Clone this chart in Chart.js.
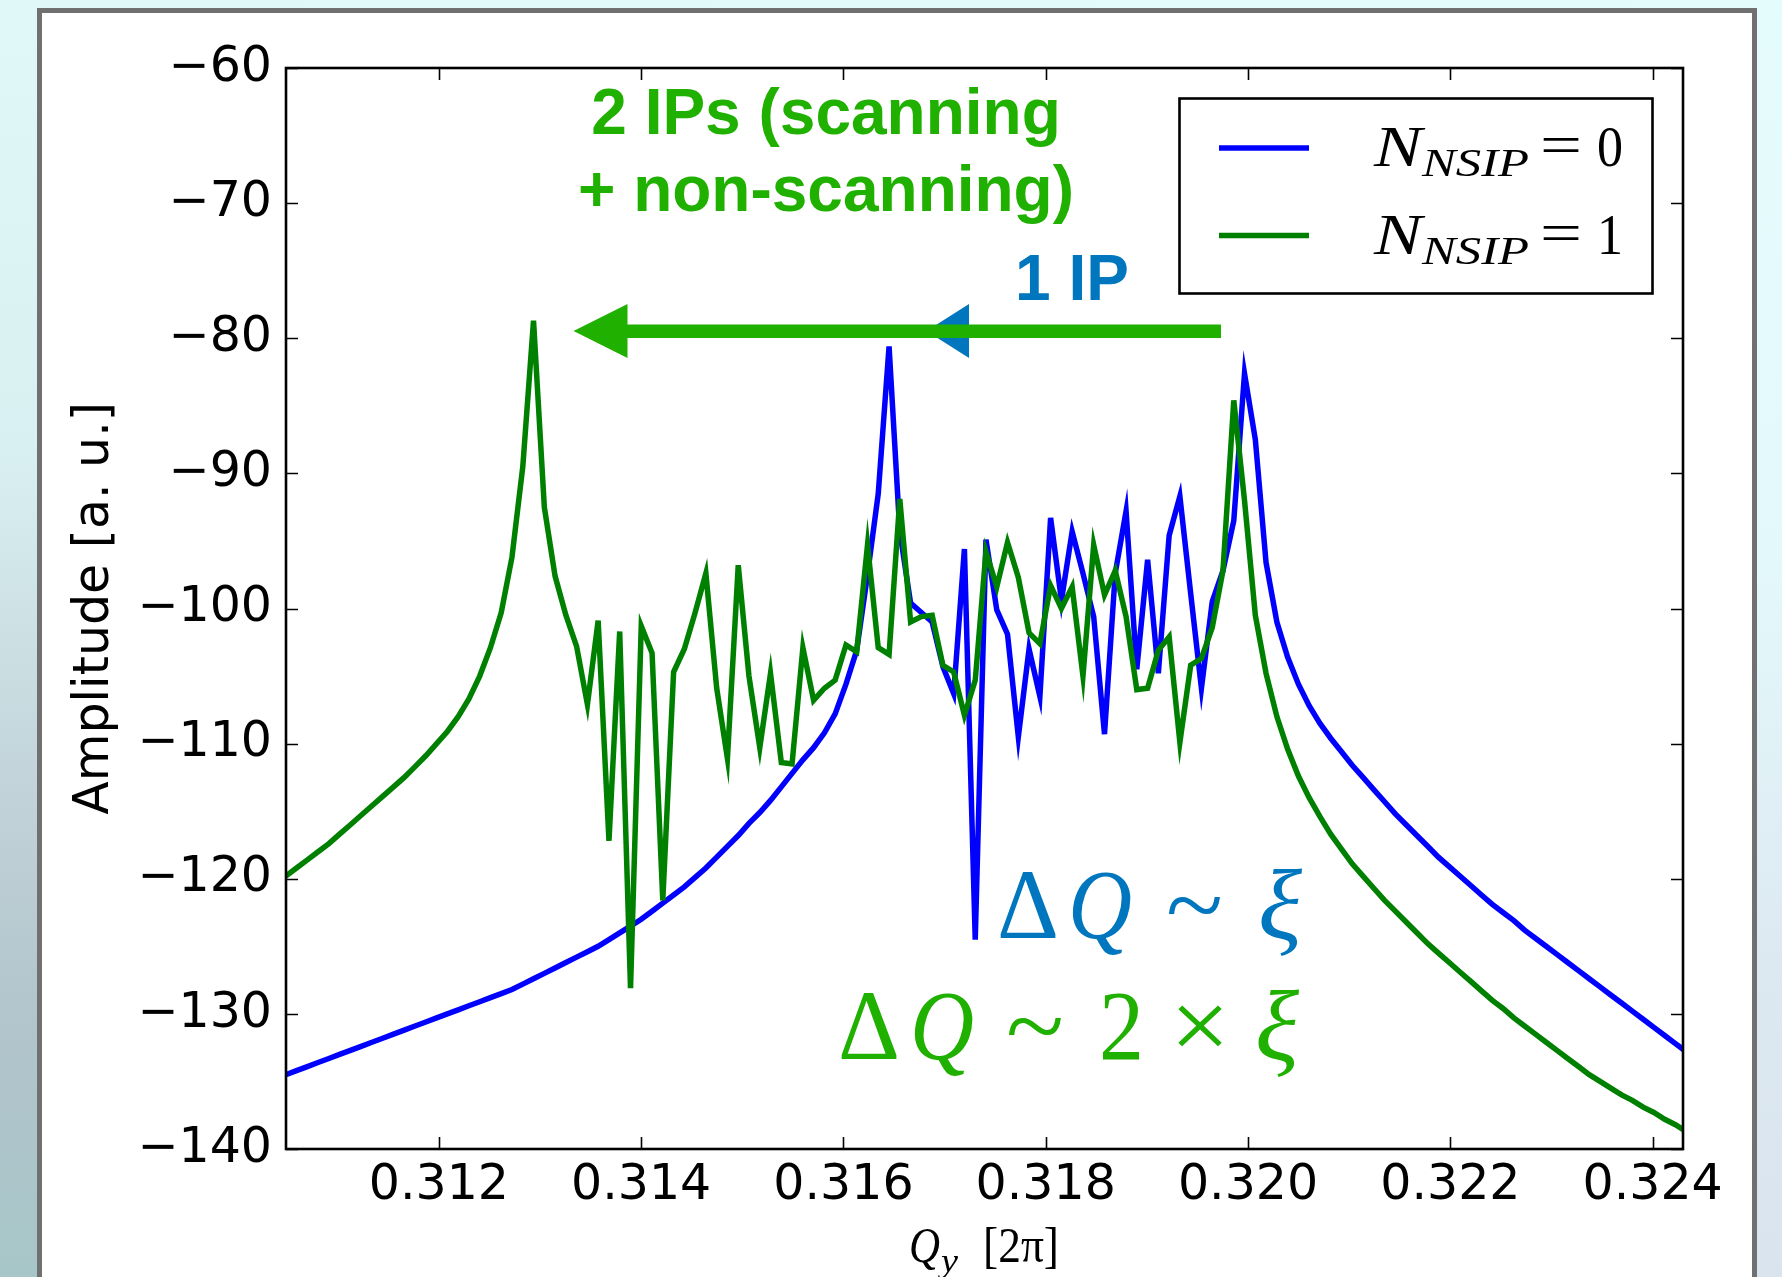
<!DOCTYPE html>
<html>
<head>
<meta charset="utf-8">
<script src="https://cdn.jsdelivr.net/npm/chart.js@4.4.1/dist/chart.umd.min.js"></script>
<style>
  html, body { margin: 0; padding: 0; width: 1782px; height: 1277px; overflow: hidden; background: #ffffff; }
  #leftStrip { position: absolute; left: 0; top: 0; width: 40px; height: 1277px;
    background: linear-gradient(180deg, #e1f8f8 0%, #d9f0f2 35%, #bfd0d6 65%, #b2c4cc 80%, #a7c6c8 100%); }
  #rightStrip { position: absolute; left: 1750px; top: 0; width: 32px; height: 1277px;
    background: linear-gradient(180deg, #e5fcfd 0%, #e3f8fb 45%, #dde9f1 75%, #d9e4ee 100%); }
  #topStrip { position: absolute; left: 0; top: 0; width: 1782px; height: 10px;
    background: linear-gradient(90deg, #e1f8f8 0%, #e3fafa 60%, #e5fcfd 100%); }
  #panel { position: absolute; left: 37px; top: 8px; width: 1710px; height: 1300px;
    background: #ffffff; border: 5px solid #707070; border-bottom: none; }
  #wrap { position: absolute; left: 0; top: 0; width: 1782px; height: 1277px; }
</style>
</head>
<body>
<div id="topStrip"></div>
<div id="leftStrip"></div>
<div id="rightStrip"></div>
<div id="panel"></div>
<div id="wrap"><canvas id="c" width="1782" height="1277"></canvas></div>
<script>
// Vertical tune Q_y [2π] on the spectrum frequency grid
const qy = [
  0.310487, 0.310593, 0.310700, 0.310806, 0.310913, 0.311019, 0.311126, 0.311232, 0.311339, 0.311445,
  0.311552, 0.311658, 0.311765, 0.311871, 0.311978, 0.312084, 0.312191, 0.312297, 0.312404, 0.312510,
  0.312617, 0.312723, 0.312830, 0.312936, 0.313043, 0.313149, 0.313256, 0.313362, 0.313469, 0.313575,
  0.313682, 0.313788, 0.313895, 0.314001, 0.314108, 0.314214, 0.314321, 0.314427, 0.314534, 0.314640,
  0.314747, 0.314853, 0.314960, 0.315066, 0.315173, 0.315279, 0.315386, 0.315492, 0.315599, 0.315705,
  0.315812, 0.315918, 0.316025, 0.316131, 0.316238, 0.316344, 0.316451, 0.316557, 0.316664, 0.316770,
  0.316877, 0.316983, 0.317090, 0.317196, 0.317303, 0.317409, 0.317516, 0.317622, 0.317729, 0.317835,
  0.317942, 0.318048, 0.318155, 0.318261, 0.318368, 0.318474, 0.318581, 0.318687, 0.318794, 0.318900,
  0.319007, 0.319113, 0.319220, 0.319326, 0.319433, 0.319539, 0.319646, 0.319752, 0.319859, 0.319965,
  0.320072, 0.320178, 0.320285, 0.320391, 0.320498, 0.320604, 0.320711, 0.320817, 0.320924, 0.321030,
  0.321137, 0.321243, 0.321350, 0.321456, 0.321563, 0.321669, 0.321776, 0.321882, 0.321989, 0.322095,
  0.322202, 0.322308, 0.322415, 0.322521, 0.322628, 0.322734, 0.322841, 0.322947, 0.323054, 0.323160,
  0.323267, 0.323373, 0.323480, 0.323586, 0.323693, 0.323799, 0.323906, 0.324012, 0.324119, 0.324225,
  0.324332
];

// Spectrum amplitude [a. u.] with no non-scanning IP (N_NSIP = 0)
const ampNsip0 = [
  -134.5, -134.2, -133.9, -133.6, -133.3, -133.0, -132.7, -132.4, -132.1, -131.8,
  -131.5, -131.2, -130.9, -130.6, -130.3, -130.0, -129.7, -129.4, -129.1, -128.8,
  -128.5, -128.2, -127.8, -127.4, -127.0, -126.6, -126.2, -125.8, -125.4, -125.0,
  -124.5, -124.0, -123.5, -123.0, -122.4, -121.8, -121.2, -120.6, -119.9, -119.2,
  -118.4, -117.6, -116.8, -115.9, -115.1, -114.2, -113.2, -112.2, -111.2, -110.3,
  -109.2, -107.8, -105.6, -103.1, -97.5, -91.5, -80.6, -94.3, -99.6, -100.3,
  -101.0, -104.3, -106.3, -95.6, -124.5, -94.9, -100.1, -101.9, -109.5, -103.0,
  -106.5, -93.3, -99.4, -94.3, -97.4, -100.6, -109.3, -97.4, -92.8, -104.5,
  -96.4, -104.8, -94.6, -91.7, -98.9, -105.9, -99.5, -97.2, -93.5, -82.6,
  -87.5, -96.6, -101.0, -103.6, -105.6, -107.2, -108.5, -109.6, -110.6, -111.6,
  -112.5, -113.4, -114.3, -115.2, -116.0, -116.8, -117.6, -118.4, -119.1, -119.8,
  -120.5, -121.2, -121.9, -122.5, -123.1, -123.8, -124.4, -125.0, -125.6, -126.2,
  -126.8, -127.4, -128.0, -128.6, -129.2, -129.8, -130.4, -131.0, -131.6, -132.2,
  -132.8
];

// Spectrum amplitude [a. u.] with one non-scanning IP (N_NSIP = 1)
const ampNsip1 = [
  -119.8, -119.2, -118.6, -118.0, -117.4, -116.7, -116.0, -115.3, -114.6, -113.9,
  -113.2, -112.5, -111.7, -110.9, -110.0, -109.1, -108.0, -106.7, -105.0, -102.9,
  -100.3, -96.2, -89.5, -78.7, -92.5, -97.6, -100.5, -102.8, -107.1, -100.9,
  -117.2, -101.7, -128.1, -101.3, -103.3, -121.6, -104.7, -103.0, -100.3, -97.4,
  -105.9, -111.1, -96.8, -105.0, -110.3, -104.8, -111.4, -111.5, -102.9, -106.8,
  -105.9, -105.3, -102.7, -103.2, -95.3, -102.9, -103.4, -91.9, -101.0, -100.6,
  -100.5, -104.2, -104.7, -107.9, -105.3, -95.8, -98.4, -95.1, -97.7, -101.8,
  -102.6, -98.3, -100.0, -98.4, -105.0, -95.3, -99.0, -97.2, -100.6, -106.0,
  -105.9, -103.1, -102.1, -109.9, -104.2, -103.7, -101.4, -97.2, -84.6, -92.0,
  -100.5, -104.8, -108.0, -110.4, -112.4, -114.0, -115.4, -116.7, -117.8, -118.9,
  -119.8, -120.7, -121.6, -122.4, -123.2, -124.0, -124.8, -125.5, -126.2, -126.9,
  -127.6, -128.3, -129.0, -129.6, -130.3, -130.9, -131.5, -132.1, -132.7, -133.3,
  -133.9, -134.5, -135.0, -135.5, -136.0, -136.4, -136.9, -137.3, -137.8, -138.2,
  -138.7
];

// Axis ticks
const xTicks = [0.312, 0.314, 0.316, 0.318, 0.320, 0.322, 0.324];
const yTicks = [-140, -130, -120, -110, -100, -90, -80, -70, -60];

const BLUE = '#0000ff';
const GREEN = '#008000';
const NOTE_GREEN = '#20b000';
const NOTE_BLUE = '#0076be';
const SERIF = '"Liberation Serif", "DejaVu Serif", serif';
const SANS = '"DejaVu Sans", sans-serif';

// Draws a text run stretched or squeezed horizontally to a given width
function fitText(ctx, s, x, y, font, color, width) {
  ctx.save();
  ctx.font = font;
  ctx.fillStyle = color;
  ctx.textAlign = 'left';
  ctx.textBaseline = 'alphabetic';
  const m = ctx.measureText(s).width;
  ctx.translate(x, y);
  if (width) ctx.scale(width / m, 1);
  ctx.fillText(s, 0, 0);
  ctx.restore();
}

// Inward tick marks on all four sides and the black axes frame
const framePlugin = {
  id: 'frame',
  afterDatasetsDraw(chart) {
    const { ctx, chartArea: a, scales } = chart;
    ctx.save();
    ctx.strokeStyle = '#000';
    ctx.lineWidth = 1.6;
    const tl = 12;
    xTicks.forEach(v => {
      const px = Math.round(scales.x.getPixelForValue(v)) + 0.5;
      ctx.beginPath();
      ctx.moveTo(px, a.bottom); ctx.lineTo(px, a.bottom - tl);
      ctx.moveTo(px, a.top); ctx.lineTo(px, a.top + tl);
      ctx.stroke();
    });
    yTicks.forEach(v => {
      const py = Math.round(scales.y.getPixelForValue(v)) + 0.5;
      ctx.beginPath();
      ctx.moveTo(a.left, py); ctx.lineTo(a.left + tl, py);
      ctx.moveTo(a.right, py); ctx.lineTo(a.right - tl, py);
      ctx.stroke();
    });
    ctx.lineWidth = 2.6;
    ctx.strokeRect(a.left, a.top, a.right - a.left, a.bottom - a.top);
    ctx.restore();
  }
};

// Legend box, x-axis label and the annotations on the plot
const notesPlugin = {
  id: 'notes',
  afterDraw(chart) {
    const ctx = chart.ctx;

    // legend
    ctx.save();
    ctx.fillStyle = '#fff';
    ctx.fillRect(1179, 98, 474, 195);
    ctx.strokeStyle = '#000';
    ctx.lineWidth = 2.6;
    ctx.strokeRect(1179.5, 98.5, 473, 195);
    ctx.lineWidth = 5.5;
    ctx.strokeStyle = BLUE;
    ctx.beginPath(); ctx.moveTo(1219, 148); ctx.lineTo(1309, 148); ctx.stroke();
    ctx.strokeStyle = GREEN;
    ctx.beginPath(); ctx.moveTo(1219, 235.5); ctx.lineTo(1309, 235.5); ctx.stroke();
    ctx.restore();
    const rows = [[166, '0'], [254, '1']];
    rows.forEach(([base, val]) => {
      fitText(ctx, 'N', 1374, base, 'italic 58px ' + SERIF, '#000', 48);
      fitText(ctx, 'NSIP', 1422, base + 10, 'italic 40px ' + SERIF, '#000', 107);
      fitText(ctx, '=', 1540, base - 2, '58px ' + SERIF, '#000', 42);
      fitText(ctx, val, 1597, base, '58px ' + SERIF, '#000', 26);
    });

    // x-axis label Q_y [2π]
    fitText(ctx, 'Q', 909, 1262, 'italic 50px ' + SERIF, '#000', 31);
    fitText(ctx, 'y', 941, 1272, 'italic 34px ' + SERIF, '#000', 17);
    fitText(ctx, '[2π]', 983, 1262, '50px ' + SERIF, '#000', 76);

    // arrows: blue head (1 IP shift) under the green arrow (2 IPs shift)
    ctx.save();
    ctx.fillStyle = NOTE_BLUE;
    ctx.beginPath();
    ctx.moveTo(926.5, 331); ctx.lineTo(969, 304); ctx.lineTo(969, 358); ctx.closePath();
    ctx.fill();
    ctx.fillStyle = NOTE_GREEN;
    ctx.fillRect(620, 324.5, 601, 13.5);
    ctx.beginPath();
    ctx.moveTo(573.5, 331); ctx.lineTo(627.5, 304); ctx.lineTo(627.5, 358); ctx.closePath();
    ctx.fill();
    ctx.restore();

    // labels
    ctx.save();
    ctx.font = 'bold 64px "Liberation Sans", Arial, sans-serif';
    ctx.textAlign = 'center';
    ctx.fillStyle = NOTE_GREEN;
    ctx.fillText('2 IPs (scanning', 826, 134);
    ctx.fillText('+ non-scanning)', 826, 211);
    ctx.textAlign = 'left';
    ctx.fillStyle = NOTE_BLUE;
    ctx.fillText('1 IP', 1015, 300);
    ctx.restore();

    // tune spread
    fitText(ctx, 'Δ', 997, 938, '100px ' + SERIF, NOTE_BLUE, 62);
    fitText(ctx, 'Q', 1068, 938, 'italic 100px ' + SERIF, NOTE_BLUE, 64);
    fitText(ctx, '~', 1166, 938, '100px ' + SERIF, NOTE_BLUE, 57);
    fitText(ctx, 'ξ', 1258, 938, 'italic 100px ' + SERIF, NOTE_BLUE, 44);

    fitText(ctx, 'Δ', 838, 1059, '100px ' + SERIF, NOTE_GREEN, 62);
    fitText(ctx, 'Q', 910, 1059, 'italic 100px ' + SERIF, NOTE_GREEN, 64);
    fitText(ctx, '~', 1006, 1059, '100px ' + SERIF, NOTE_GREEN, 58);
    fitText(ctx, '2', 1099, 1059, '100px ' + SERIF, NOTE_GREEN, 45);
    fitText(ctx, '×', 1170, 1059, '100px ' + SERIF, NOTE_GREEN, 60);
    fitText(ctx, 'ξ', 1255, 1059, 'italic 100px ' + SERIF, NOTE_GREEN, 44);
  }
};

const toPoints = ys => qy.map((x, i) => ({ x, y: ys[i] }));

new Chart(document.getElementById('c'), {
  type: 'scatter',
  data: {
    datasets: [
      { label: 'N_NSIP = 0', data: toPoints(ampNsip0), showLine: true, borderColor: BLUE,
        borderWidth: 5.5, pointRadius: 0, tension: 0, clip: 0, order: 2 },
      { label: 'N_NSIP = 1', data: toPoints(ampNsip1), showLine: true, borderColor: GREEN,
        borderWidth: 5.5, pointRadius: 0, tension: 0, clip: 0, order: 1 }
    ]
  },
  options: {
    responsive: false,
    devicePixelRatio: 1,
    animation: false,
    layout: { padding: { left: 0, top: 68, right: 99, bottom: 0 } },
    plugins: { legend: { display: false }, tooltip: { enabled: false } },
    scales: {
      x: {
        type: 'linear',
        min: 0.310489,
        max: 0.3243,
        afterBuildTicks: s => { s.ticks = xTicks.map(v => ({ value: v })); },
        afterFit: s => { s.height = 128; },
        grid: { display: false, drawTicks: false },
        border: { display: false },
        ticks: {
          padding: 8,
          color: '#000',
          font: { family: SANS, size: 49 },
          maxRotation: 0,
          autoSkip: false,
          callback: v => v.toFixed(3)
        }
      },
      y: {
        type: 'linear',
        min: -140,
        max: -60,
        afterBuildTicks: s => { s.ticks = yTicks.map(v => ({ value: v })); },
        afterFit: s => { s.width = 286; },
        grid: { display: false, drawTicks: false },
        border: { display: false },
        title: {
          display: true,
          text: 'Amplitude [a. u.]',
          color: '#000',
          font: { family: SANS, size: 49 },
          padding: { top: 66, bottom: 0 }
        },
        ticks: {
          padding: 14,
          color: '#000',
          font: { family: SANS, size: 49 },
          autoSkip: false,
          callback: v => (v < 0 ? '\u2212' : '') + Math.abs(v)
        }
      }
    }
  },
  plugins: [framePlugin, notesPlugin]
});
</script>
</body>
</html>
